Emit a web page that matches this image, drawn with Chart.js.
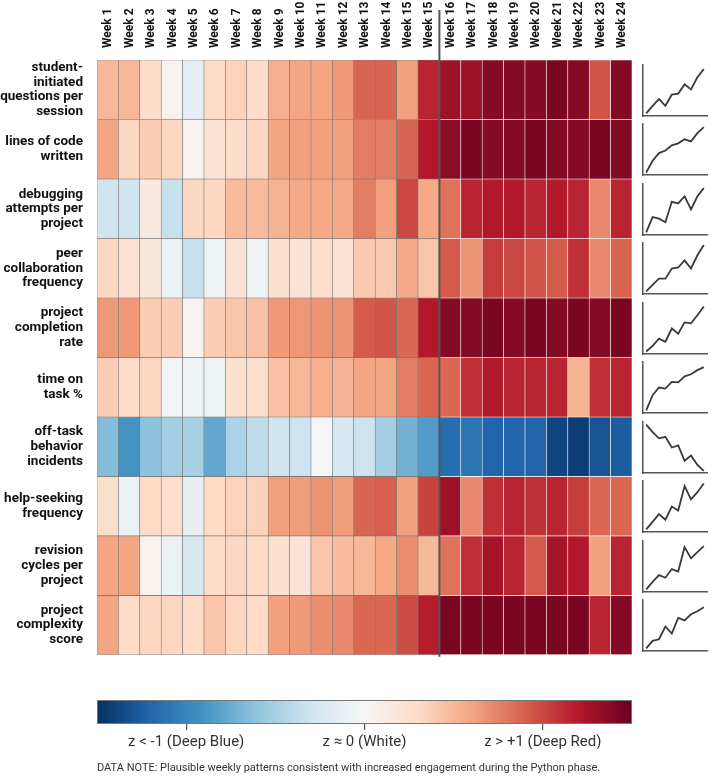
<!DOCTYPE html>
<html>
<head>
<meta charset="utf-8">
<script src="https://cdn.jsdelivr.net/npm/chart.js@4.4.1/dist/chart.umd.min.js"></script>
<style>
  html, body { margin: 0; padding: 0; background: #fff; }
  #wrap { position: relative; width: 714px; height: 781px; overflow: hidden; font-family: Roboto, sans-serif; }
  #heat { position: absolute; left: 0; top: 0; }
  #bar { position: absolute; left: 0; top: 688px; }
  .spark { position: absolute; left: 640px; }
  #note { position: absolute; left: 97px; top: 761px; font-size: 11px; color: #333; white-space: nowrap; }
</style>
</head>
<body>
<div id="wrap">
  <canvas id="heat" width="714" height="690"></canvas>
  <canvas id="bar" width="714" height="70"></canvas>
  <div id="note">DATA NOTE: Plausible weekly patterns consistent with increased engagement during the Python phase.</div>
</div>
<script>
const weeks = ['Week 1', 'Week 2', 'Week 3', 'Week 4', 'Week 5', 'Week 6', 'Week 7', 'Week 8', 'Week 9',
  'Week 10', 'Week 11', 'Week 12', 'Week 13', 'Week 14', 'Week 15', 'Week 15', 'Week 16', 'Week 17',
  'Week 18', 'Week 19', 'Week 20', 'Week 21', 'Week 22', 'Week 23', 'Week 24'];

const metricLabels = [
  ['student-', 'initiated', 'questions per', 'session'],
  ['lines of code', 'written'],
  ['debugging', 'attempts per', 'project'],
  ['peer', 'collaboration', 'frequency'],
  ['project', 'completion', 'rate'],
  ['time on', 'task %'],
  ['off-task', 'behavior', 'incidents'],
  ['help-seeking', 'frequency'],
  ['revision', 'cycles per', 'project'],
  ['project', 'complexity', 'score']
];

// weekly z-scores, one array per metric
const zQuestions = [0.5, 0.5, 0.28, 0.05, -0.15, 0.28, 0.35, 0.28, 0.55, 0.6, 0.6, 0.65, 0.88, 0.88, 0.62, 1.15, 1.28, 1.28, 1.38, 1.38, 1.38, 1.42, 1.38, 0.95, 1.38];
const zLinesOfCode = [0.6, 0.32, 0.38, 0.32, 0.05, 0.22, 0.28, 0.32, 0.6, 0.62, 0.62, 0.62, 0.78, 0.78, 0.88, 1.2, 1.35, 1.42, 1.38, 1.38, 1.42, 1.38, 1.38, 1.42, 1.38];
const zDebugging = [-0.3, -0.3, 0.15, -0.35, 0.32, 0.32, 0.48, 0.48, 0.52, 0.58, 0.58, 0.58, 0.78, 0.62, 1.0, 0.58, 0.82, 1.15, 1.2, 1.2, 1.15, 1.2, 1.15, 0.72, 1.15];
const zPeer = [0.32, 0.22, 0.17, -0.1, -0.35, -0.08, 0.2, -0.08, 0.24, 0.2, 0.27, 0.22, 0.4, 0.4, 0.58, 0.42, 0.92, 0.68, 1.05, 1.0, 0.95, 0.92, 1.1, 0.72, 0.88];
const zCompletion = [0.65, 0.65, 0.38, 0.38, 0.05, 0.38, 0.42, 0.44, 0.65, 0.66, 0.68, 0.68, 0.92, 0.95, 0.87, 1.2, 1.38, 1.38, 1.42, 1.38, 1.42, 1.38, 1.42, 1.38, 1.42];
const zTimeOnTask = [0.38, 0.28, 0.32, -0.05, -0.07, -0.08, 0.24, 0.27, 0.45, 0.5, 0.55, 0.52, 0.6, 0.6, 0.78, 0.87, 0.87, 1.1, 1.2, 1.15, 1.15, 1.15, 0.52, 1.1, 1.15];
const zOffTask = [-0.65, -0.9, -0.62, -0.52, -0.5, -0.78, -0.48, -0.38, -0.3, -0.32, -0.02, -0.25, -0.32, -0.52, -0.72, -0.85, -1.15, -1.1, -1.2, -1.2, -1.2, -1.38, -1.42, -1.3, -1.25];
const zHelpSeeking = [0.27, -0.1, 0.3, 0.27, -0.13, 0.3, 0.35, 0.35, 0.62, 0.63, 0.68, 0.63, 0.88, 0.9, 0.62, 1.02, 1.28, 0.72, 1.1, 1.15, 1.1, 1.15, 1.05, 0.87, 0.87];
const zRevision = [0.6, 0.6, 0.05, -0.1, -0.25, 0.28, 0.33, 0.3, 0.25, 0.2, 0.42, 0.48, 0.5, 0.58, 0.7, 0.5, 0.82, 1.1, 1.25, 1.15, 0.92, 1.25, 1.2, 0.62, 1.15];
const zComplexity = [0.6, 0.28, 0.33, 0.33, 0.3, 0.42, 0.33, 0.3, 0.62, 0.65, 0.7, 0.72, 0.87, 0.87, 0.98, 1.18, 1.42, 1.42, 1.42, 1.42, 1.42, 1.42, 1.42, 1.15, 1.38];

const zRows = [zQuestions, zLinesOfCode, zDebugging, zPeer, zCompletion, zTimeOnTask, zOffTask, zHelpSeeking, zRevision, zComplexity];

// trend sparklines on the right
const sparkQuestions = [0.5, 2, 3.3, 2, 4.2, 4.4, 6.2, 5.2, 7.6, 9.2];
const sparkLinesOfCode = [0.5, 2.8, 4.3, 4.8, 5.8, 6.2, 7, 6.6, 8.2, 9.4];
const sparkDebugging = [0.5, 3.5, 3.2, 2.5, 6.5, 6.2, 7.6, 5, 7.6, 9.2];
const sparkPeer = [0.5, 1.8, 3, 3, 5, 5.2, 6.6, 5, 7.6, 9.6];
const sparkCompletion = [0.5, 1.6, 3, 2.4, 5, 4, 6.2, 6, 7.6, 9.3];
const sparkTimeOnTask = [0.5, 3.5, 5, 4.8, 6.1, 6, 7.2, 7.6, 8.4, 9];
const sparkOffTask = [9.5, 8, 6.8, 7.1, 5, 5.4, 2.4, 3.4, 1.6, 0.4];
const sparkHelpSeeking = [0.5, 2, 3.5, 2.4, 5, 4.2, 9, 6.4, 7.8, 9.5];
const sparkRevision = [0.5, 2, 3.3, 2.8, 4.5, 4, 8.8, 6.6, 7.8, 9];
const sparkComplexity = [0.5, 2, 2.3, 4.8, 3.4, 6.5, 6, 7.2, 7.8, 8.6];

const sparkRows = [sparkQuestions, sparkLinesOfCode, sparkDebugging, sparkPeer, sparkCompletion, sparkTimeOnTask, sparkOffTask, sparkHelpSeeking, sparkRevision, sparkComplexity];

const zTicks = [-1, 0, 1];
const zTickLabels = ['z < -1 (Deep Blue)', 'z \u2248 0 (White)', 'z > +1 (Deep Red)'];
const Z_MIN = -1.5, Z_MAX = 1.5;
const PHASE_SPLIT = 16; // columns before the python phase divider

// RdBu, blue for negative z
const palette = ['#053061', '#2166ac', '#4393c3', '#92c5de', '#d1e5f0', '#f7f7f7',
  '#fddbc7', '#f4a582', '#d6604d', '#b2182b', '#67001f'];

function hexToRgb(h) {
  return [parseInt(h.slice(1, 3), 16), parseInt(h.slice(3, 5), 16), parseInt(h.slice(5, 7), 16)];
}

function zColor(z) {
  let t = (Math.max(Z_MIN, Math.min(Z_MAX, z)) - Z_MIN) / (Z_MAX - Z_MIN) * (palette.length - 1);
  const i = Math.min(Math.floor(t), palette.length - 2);
  const f = t - i;
  const a = hexToRgb(palette[i]), b = hexToRgb(palette[i + 1]);
  const c = a.map((v, k) => Math.round(v + (b[k] - v) * f));
  return `rgb(${c[0]}, ${c[1]}, ${c[2]})`;
}

Chart.defaults.font.family = 'Roboto, sans-serif';
Chart.defaults.color = '#111';

const phaseDivider = {
  id: 'phaseDivider',
  afterDatasetsDraw(chart) {
    const x = chart.scales.x;
    const px = (x.getPixelForValue(PHASE_SPLIT - 1) + x.getPixelForValue(PHASE_SPLIT)) / 2;
    const ctx = chart.ctx;
    ctx.save();
    ctx.strokeStyle = '#555';
    ctx.lineWidth = 2;
    ctx.beginPath();
    ctx.moveTo(px, 10);
    ctx.lineTo(px, chart.chartArea.bottom + 2);
    ctx.stroke();
    ctx.restore();
  }
};

const heatChart = new Chart(document.getElementById('heat'), {
  type: 'bar',
  data: {
    labels: weeks,
    datasets: zRows.map((row, r) => ({
      label: metricLabels[r].join(' '),
      data: row.map(() => [r, r + 1]),
      backgroundColor: row.map(z => zColor(z)),
      borderColor: row.map((z, c) => c < PHASE_SPLIT ? 'rgba(110, 110, 110, 0.9)' : 'rgba(255, 255, 255, 0.75)'),
      borderWidth: 0.6,
      borderSkipped: false,
      barPercentage: 1,
      categoryPercentage: 1
    }))
  },
  options: {
    responsive: false,
    animation: false,
    layout: { padding: { left: 0, top: 0, right: 82, bottom: 9 } },
    plugins: {
      legend: { display: false },
      tooltip: { enabled: false }
    },
    scales: {
      x: {
        position: 'top',
        stacked: true,
        offset: true,
        grid: { display: false },
        border: { display: false },
        ticks: {
          autoSkip: false,
          minRotation: 90,
          maxRotation: 90,
          padding: 4,
          labelOffset: 15,
          color: '#111',
          font: { size: 12, weight: 'bold' }
        },
        afterFit(scale) { scale.height = 60; }
      },
      y: {
        type: 'linear',
        min: 0,
        max: zRows.length,
        reverse: true,
        grid: { display: false },
        border: { display: false },
        afterBuildTicks(scale) {
          scale.ticks = metricLabels.map((_, i) => ({ value: i + 0.5 }));
        },
        ticks: {
          autoSkip: false,
          padding: 6,
          color: '#111',
          font: { size: 13.5, weight: 'bold', lineHeight: 1.08 },
          callback: v => metricLabels[Math.floor(v)]
        },
        afterFit(scale) { scale.width = 97; }
      }
    }
  },
  plugins: [phaseDivider]
});

// sparklines, one small chart per metric row
const wrap = document.getElementById('wrap');
const yScale = heatChart.scales.y;
sparkRows.forEach((vals, i) => {
  const cv = document.createElement('canvas');
  cv.className = 'spark';
  cv.width = 70;
  cv.height = 54;
  cv.style.top = Math.round(yScale.getPixelForValue(i) + 4) + 'px';
  wrap.appendChild(cv);
  new Chart(cv, {
    type: 'line',
    data: {
      labels: vals.map((_, k) => k),
      datasets: [{
        data: vals,
        borderColor: '#3a3a3a',
        borderWidth: 1.8,
        pointRadius: 0,
        tension: 0
      }]
    },
    options: {
      responsive: false,
      animation: false,
      layout: { padding: { left: 3, right: 3, top: 1, bottom: 2 } },
      plugins: { legend: { display: false }, tooltip: { enabled: false } },
      scales: {
        x: {
          offset: true,
          grid: { display: false },
          ticks: { display: false },
          border: { display: true, color: '#555', width: 1.5 },
          afterFit(scale) { scale.height = 0; }
        },
        y: {
          min: 0,
          max: 10,
          grid: { display: false },
          ticks: { display: false },
          border: { display: true, color: '#555', width: 1.5 },
          afterFit(scale) { scale.width = 0; }
        }
      }
    }
  });
});

// colour bar with its own axis
const gradientBar = {
  id: 'gradientBar',
  beforeDatasetsDraw(chart) {
    const { ctx, chartArea: a } = chart;
    const x = chart.scales.x;
    const g = ctx.createLinearGradient(a.left, 0, a.right, 0);
    palette.forEach((col, k) => {
      const z = Z_MIN + (Z_MAX - Z_MIN) * k / (palette.length - 1);
      g.addColorStop((x.getPixelForValue(z) - a.left) / (a.right - a.left), col);
    });
    ctx.save();
    ctx.fillStyle = g;
    ctx.fillRect(a.left, a.top, a.right - a.left, a.bottom - a.top);
    ctx.strokeStyle = '#777';
    ctx.lineWidth = 1;
    ctx.strokeRect(a.left + 0.5, a.top + 0.5, a.right - a.left - 1, a.bottom - a.top - 1);
    ctx.restore();
  }
};

new Chart(document.getElementById('bar'), {
  type: 'line',
  data: { datasets: [] },
  options: {
    responsive: false,
    animation: false,
    layout: { padding: { left: 97, right: 82, top: 12, bottom: 0 } },
    plugins: { legend: { display: false }, tooltip: { enabled: false } },
    scales: {
      x: {
        type: 'linear',
        min: Z_MIN,
        max: Z_MAX,
        afterBuildTicks(scale) {
          scale.ticks = zTicks.map(v => ({ value: v }));
        },
        grid: { display: true, drawOnChartArea: false, tickLength: 6, color: '#555', lineWidth: 1.2 },
        border: { display: false },
        ticks: {
          padding: 3,
          color: '#333',
          font: { size: 15 },
          callback: v => zTickLabels[zTicks.indexOf(v)]
        },
        afterFit(scale) { scale.height = 34; }
      },
      y: { display: false, min: 0, max: 1 }
    }
  },
  plugins: [gradientBar]
});
</script>
</body>
</html>
